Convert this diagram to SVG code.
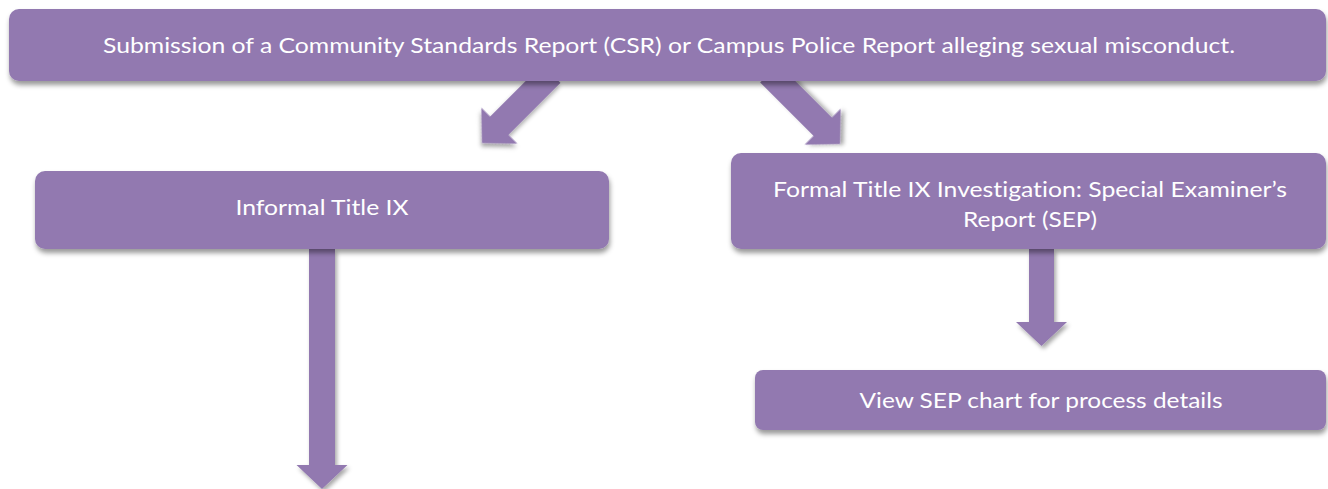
<svg xmlns="http://www.w3.org/2000/svg" width="1328" height="489" viewBox="0 0 1328 489">
  <defs>
    <filter id="shadow" x="-10%" y="-20%" width="120%" height="160%">
      <feDropShadow dx="1" dy="4" stdDeviation="2.5" flood-color="#000" flood-opacity="0.4"/>
    </filter>
    <filter id="ashadow" x="-30%" y="-10%" width="160%" height="130%">
      <feDropShadow dx="2" dy="3" stdDeviation="2" flood-color="#000" flood-opacity="0.35"/>
    </filter>
  </defs>
  <style>
    .box { fill: #9279B0; filter: url(#shadow); }
    .arrow { fill: #9279B0; filter: url(#ashadow); }
    .lbl { font-family: Lato, "Open Sans", "Liberation Sans", sans-serif; font-size: 22px; fill: #FFFFFF; text-anchor: middle; font-variant-ligatures: none; font-feature-settings: "liga" 0, "dlig" 0; }
  </style>
  <rect width="1328" height="489" fill="#FFFFFF"/>
  <g id="connectors">
    <path class="arrow" transform="translate(482,143) rotate(45)" d="M0,0 L-25.5,-24.5 L-13,-24.5 L-13,-98 L13,-98 L13,-24.5 L25.5,-24.5 Z"/>
    <path class="arrow" transform="translate(840,144) rotate(-45)" d="M0,0 L-25.5,-24.5 L-13,-24.5 L-13,-100 L13,-100 L13,-24.5 L25.5,-24.5 Z"/>
    <path class="arrow" d="M296.5,465 L309,465 L309,249 L335,249 L335,465 L347.5,465 L322,489 Z"/>
    <path class="arrow" d="M1016,322 L1029,322 L1029,249 L1054,249 L1054,322 L1067,322 L1041.5,346 Z"/>
  </g>
  <g id="node-report">
    <rect class="box" x="9" y="9" width="1317" height="72" rx="10" ry="10"/>
    <text class="lbl" x="669" y="53" textLength="1132" lengthAdjust="spacingAndGlyphs">Submission of a Community Standards Report (CSR) or Campus Police Report alleging sexual misconduct.</text>
  </g>
  <g id="node-informal">
    <rect class="box" x="35" y="171" width="574" height="78" rx="10" ry="10"/>
    <text class="lbl" x="322" y="215" textLength="173" lengthAdjust="spacingAndGlyphs">Informal Title IX</text>
  </g>
  <g id="node-formal">
    <rect class="box" x="731" y="153" width="595" height="96" rx="10" ry="10"/>
    <text class="lbl" x="1030" y="197" textLength="514" lengthAdjust="spacingAndGlyphs">Formal Title IX Investigation: Special Examiner’s</text>
    <text class="lbl" x="1030" y="227" textLength="134" lengthAdjust="spacingAndGlyphs">Report (SEP)</text>
  </g>
  <g id="node-sep">
    <rect class="box" x="755" y="370" width="571" height="60" rx="8" ry="8"/>
    <text class="lbl" x="1041" y="408" textLength="363" lengthAdjust="spacingAndGlyphs">View SEP chart for process details</text>
  </g>
</svg>
